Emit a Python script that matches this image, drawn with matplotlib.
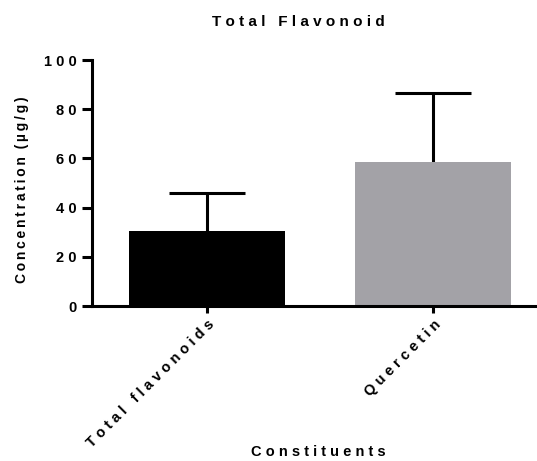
import matplotlib.pyplot as plt

# flavonoid content, mean and SD (µg/g)
constituents = ['Total flavonoids', 'Quercetin']
means = [30.5, 58.5]
sds = [15.5, 28.0]
colors = ['#000000', '#a3a2a7']
yticks = [0, 20, 40, 60, 80, 100]

plt.rcParams['font.family'] = ['Liberation Sans', 'DejaVu Sans']
plt.rcParams['font.weight'] = 'bold'


def track(s, gap='\u2009\u200a', word='   '):
    # widen letter spacing, keep a bigger gap between words
    return word.join(gap.join(w) for w in s.split(' '))


fig = plt.figure(figsize=(5.37, 4.61), dpi=100)
ax = fig.add_axes([92 / 537, 1 - 306 / 461, (537 - 92) / 537, (306 - 60) / 461])

x = list(range(len(constituents)))
ax.bar(x, means, width=0.687, color=colors, zorder=2)
# upper error bars only
tops = [m + s for m, s in zip(means, sds)]
ax.vlines(x, means, tops, color='black', linewidth=2.2, zorder=1)
ax.hlines(tops, [xi - 0.168 for xi in x], [xi + 0.168 for xi in x],
          color='black', linewidth=2.2, zorder=1)

ax.set_xlim(-0.507, 1.458)
ax.set_ylim(0, 100)
ax.set_yticks(yticks)
ax.set_yticklabels([track(str(v)) for v in yticks])
ax.set_xticks(x)

for sp in ['top', 'right']:
    ax.spines[sp].set_visible(False)
for sp in ['left', 'bottom']:
    ax.spines[sp].set_linewidth(2.2)

ax.tick_params(axis='y', length=7, width=2.2, labelsize=10.5, pad=4)
ax.tick_params(axis='x', length=5, width=2.2, labelsize=10.5, pad=3)
ax.set_xticklabels([track(c) for c in constituents], rotation=45,
                   ha='right', rotation_mode='anchor')

fig.text(22 / 537, 1 - 190 / 461, track('Concentration (µg/g)', gap='\u2009', word='  '),
         rotation=90, ha='center', va='center', fontsize=10, fontweight='bold')
fig.text(318 / 537, 1 - 452 / 461, track('Constituents'),
         ha='center', va='center', fontsize=10.5, fontweight='bold')
fig.text(298 / 537, 1 - 22 / 461, track('Total Flavonoid'),
         ha='center', va='center', fontsize=11, fontweight='bold')

fig.savefig('out.png', dpi=100)
